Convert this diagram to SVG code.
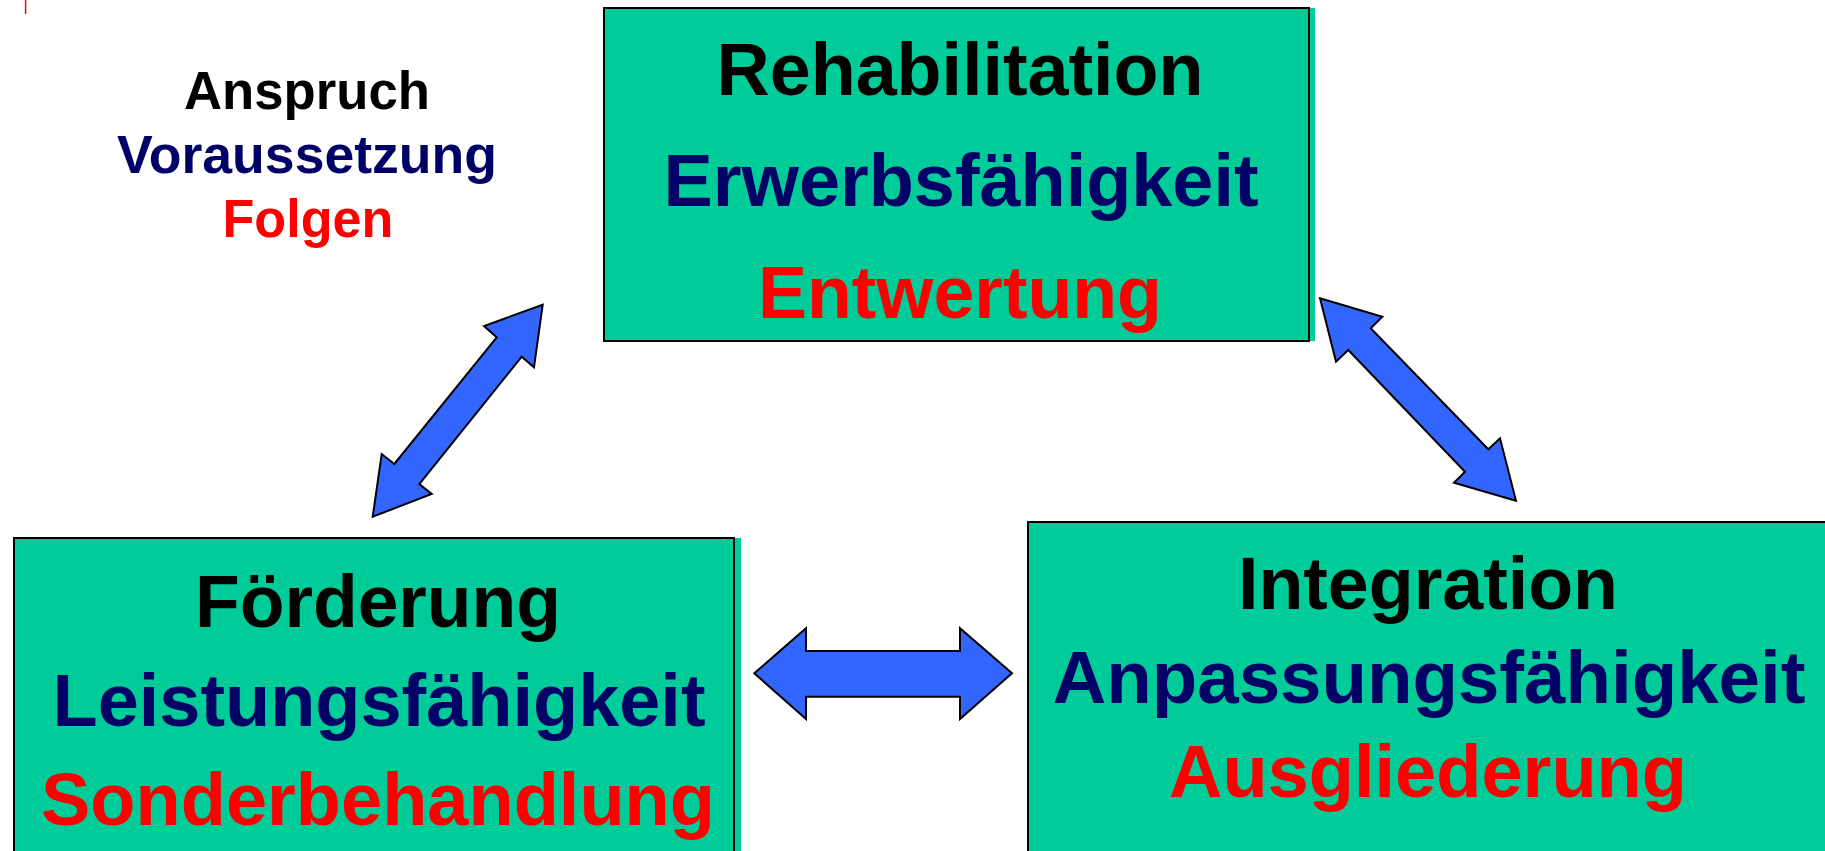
<svg xmlns="http://www.w3.org/2000/svg" width="1825" height="851" viewBox="0 0 1825 851">
<style>
text{font-family:"Liberation Sans",Arial,sans-serif;font-weight:bold;text-anchor:middle}
.big{font-size:75px}
.small{font-size:54px}
.k{fill:#000000}
.n{fill:#000066}
.r{fill:#FF0000}
.box{fill:#00CC99;stroke:#000000;stroke-width:2}
.shadow{fill:#00CC99}
.arrow{fill:#3366FF;stroke:#000000;stroke-width:2;stroke-linejoin:miter}
</style>
<rect width="1825" height="851" fill="#FFFFFF"/>
<line x1="25.6" y1="0" x2="25.6" y2="14" stroke="#FF0000" stroke-width="1.5"/>
<g id="legend">
<text class="small k" x="307" y="109" textLength="246" lengthAdjust="spacingAndGlyphs">Anspruch</text>
<text class="small n" x="307" y="173" textLength="380" lengthAdjust="spacingAndGlyphs">Voraussetzung</text>
<text class="small r" x="308" y="237" textLength="171" lengthAdjust="spacingAndGlyphs">Folgen</text>
</g>
<g id="rehabilitation">
<rect class="shadow" x="604" y="8" width="711" height="333"/>
<rect class="box" x="604" y="8" width="705" height="333"/>
<text class="big k" x="960" y="95" textLength="487" lengthAdjust="spacingAndGlyphs">Rehabilitation</text>
<text class="big n" x="961" y="206" textLength="595" lengthAdjust="spacingAndGlyphs">Erwerbsfähigkeit</text>
<text class="big r" x="960" y="318" textLength="404" lengthAdjust="spacingAndGlyphs">Entwertung</text>
</g>
<g id="foerderung">
<rect class="shadow" x="14" y="538" width="727" height="330"/>
<rect class="box" x="14" y="538" width="720" height="330"/>
<text class="big k" x="378" y="627" textLength="366" lengthAdjust="spacingAndGlyphs">Förderung</text>
<text class="big n" x="379" y="726" textLength="653" lengthAdjust="spacingAndGlyphs">Leistungsfähigkeit</text>
<text class="big r" x="378" y="825" textLength="674" lengthAdjust="spacingAndGlyphs">Sonderbehandlung</text>
</g>
<g id="integration">
<rect class="box" x="1028" y="522" width="820" height="350"/>
<text class="big k" x="1428" y="609" textLength="380" lengthAdjust="spacingAndGlyphs">Integration</text>
<text class="big n" x="1429" y="703" textLength="753" lengthAdjust="spacingAndGlyphs">Anpassungsfähigkeit</text>
<text class="big r" x="1428" y="797" textLength="518" lengthAdjust="spacingAndGlyphs">Ausgliederung</text>
</g>
<g id="connectors">
<polygon class="arrow" points="542.7,304.7 484,326 496.7,337.3 394.3,464 381.7,454 372.7,516.7 431.7,494 419.3,484 521.7,356.7 534,367.3"/>
<polygon class="arrow" points="1320,298.3 1382.3,316.7 1370.7,328.3 1488.3,449.3 1500,438.3 1516,500.7 1454,482.7 1465,471.7 1348.3,350 1336,361.7"/>
<polygon class="arrow" points="754.3,673.3 806,628.3 806,651 960,651 960,628.3 1012,673.3 960,719 960,696.7 806,696.7 806,719"/>
</g>
</svg>
